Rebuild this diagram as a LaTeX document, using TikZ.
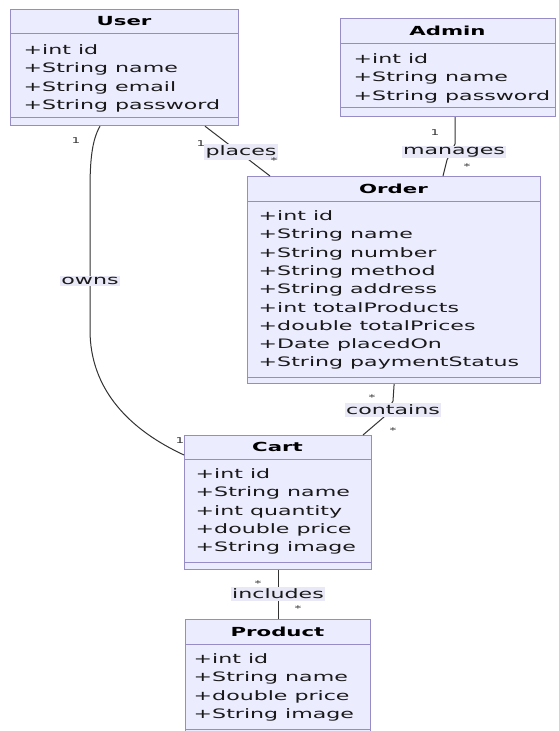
\documentclass[tikz,border=0pt]{standalone}
\usepackage{fontspec}
\setmainfont{DejaVu Sans}[FakeStretch=1.7]
\usetikzlibrary{positioning}

\definecolor{classfill}{RGB}{236,236,255}
\definecolor{classdraw}{RGB}{150,140,200}
\definecolor{edgecol}{RGB}{51,51,51}
\definecolor{labelfill}{RGB}{232,232,246}

\tikzset{
  classbox/.style={draw=classdraw, fill=classfill, line width=1.2pt, rectangle, anchor=north west, inner sep=0pt},
  classline/.style={draw=classdraw, line width=1pt},
  classname/.style={font=\bfseries\fontsize{12.5}{15}\selectfont, inner sep=0pt},
  attrs/.style={font=\fontsize{13}{18.3}\selectfont, align=left, anchor=north west, inner sep=0pt, text=black!90},
  rel/.style={draw=edgecol, line width=1pt},
  rellabel/.style={fill=labelfill, font=\fontsize{13}{15}\selectfont, inner sep=1.5pt, text=black!90},
  mult/.style={font=\fontsize{8}{9}\selectfont, inner sep=0pt, text=edgecol}
}

\begin{document}
\begin{tikzpicture}[x=1pt, y=-1pt]
  \useasboundingbox[fill=white] (0,0) rectangle (559,731);

  % classes
  \node[classbox, minimum width=228pt, minimum height=116pt] (user) at (10,9) {};
  \draw[classline] (user.west |- 0,33) -- (user.east |- 0,33)
                   (user.west |- 0,117) -- (user.east |- 0,117);
  \node[classname] (userName) at (124,21) {User};
  \node[attrs] (userAttrs) at (23.5,44.5) {+int id\\+String name\\+String email\\+String password};

  \node[classbox, minimum width=215pt, minimum height=98pt] (admin) at (340,18) {};
  \draw[classline] (admin.west |- 0,43) -- (admin.east |- 0,43)
                   (admin.west |- 0,107) -- (admin.east |- 0,107);
  \node[classname] (adminName) at (447.5,30.5) {Admin};
  \node[attrs] (adminAttrs) at (353.5,53.5) {+int id\\+String name\\+String password};

  \node[classbox, minimum width=293pt, minimum height=207pt] (order) at (247,176) {};
  \draw[classline] (order.west |- 0,201) -- (order.east |- 0,201)
                   (order.west |- 0,377) -- (order.east |- 0,377);
  \node[classname] (orderName) at (393.5,188.5) {Order};
  \node[attrs] (orderAttrs) at (258.5,210.5) {+int id\\+String name\\+String number\\+String method\\+String address\\+int totalProducts\\+double totalPrices\\+Date placedOn\\+String paymentStatus};

  \node[classbox, minimum width=187pt, minimum height=134pt] (cart) at (184,435) {};
  \draw[classline] (cart.west |- 0,459) -- (cart.east |- 0,459)
                   (cart.west |- 0,562) -- (cart.east |- 0,562);
  \node[classname] (cartName) at (277.5,447) {Cart};
  \node[attrs] (cartAttrs) at (195.5,468.5) {+int id\\+String name\\+int quantity\\+double price\\+String image};

  \node[classbox, minimum width=185pt, minimum height=120pt] (product) at (185,619) {};
  \draw[classline] (product.west |- 0,644) -- (product.east |- 0,644)
                   (product.west |- 0,729) -- (product.east |- 0,729);
  \node[classname] (productName) at (277.5,631.5) {Product};
  \node[attrs] (productAttrs) at (193.5,653.5) {+int id\\+String name\\+double price\\+String image};

  % relations
  \draw[rel] (user.south -| 205,0) -- (order.north -| 270,0)
    node[rellabel] (places) at (241,152) {places};
  \draw[rel] (user.south -| 100,0) .. controls (92,140) and (90,160) .. (90,190)
    -- (90,330) .. controls (90,390) and (130,430) .. (cart.west |- 0,455)
    node[rellabel] (owns) at (90,281) {owns};
  \draw[rel] (admin.south -| 455,0) -- (455,144) -- (447,160) -- (order.north -| 443,0)
    node[rellabel] (manages) at (454,152) {manages};
  \draw[rel] (order.south) -- (393,401) -- (384,417) -- (cart.north -| 363,0)
    node[rellabel] (contains) at (393,410) {contains};
  \draw[rel] (cart.south) -- (product.north)
    node[rellabel] (includes) at (278,594) {includes};

  % multiplicities
  \node[mult] (placesFrom) at (201,144) {1};
  \node[mult] (placesTo)   at (274,161) {*};
  \node[mult] (ownsFrom)   at (76,141) {1};
  \node[mult] (ownsTo)     at (180,441) {1};
  \node[mult] (managesFrom) at (435,133) {1};
  \node[mult] (managesTo)  at (467,167) {*};
  \node[mult] (containsFrom) at (372,398) {*};
  \node[mult] (containsTo) at (393,431) {*};
  \node[mult] (includesFrom) at (258,584) {*};
  \node[mult] (includesTo) at (298,609) {*};
\end{tikzpicture}
\end{document}
